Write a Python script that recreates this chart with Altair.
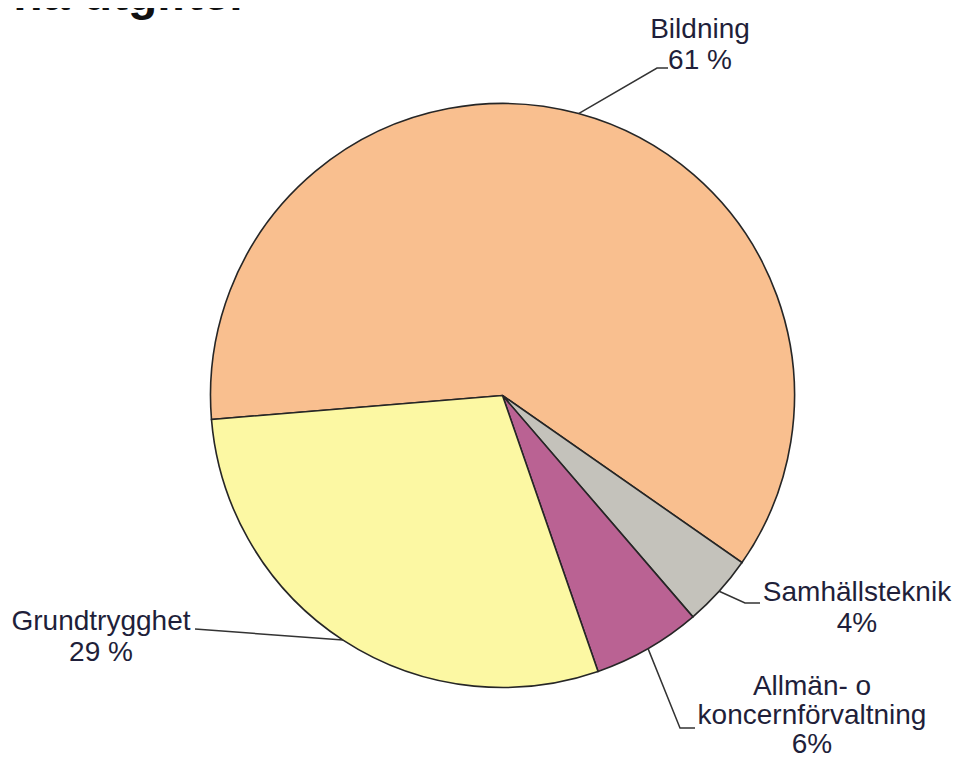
import math
import altair as alt
import pandas as pd

# ---- data ----
categories = ["Bildning", "Samhällsteknik", "Allmän- o koncernförvaltning", "Grundtrygghet"]
shares = [61, 4, 6, 29]
label_lines = [
    ["Bildning", "61 %"],
    ["Samhällsteknik", "4%"],
    ["Allmän- o", "koncernförvaltning", "6%"],
    ["Grundtrygghet", "29 %"],
]
title_text = "na utgifter"

# ---- styles / layout ----
colors = ["#F9BF8F", "#C4C2BB", "#BA6293", "#FCF8A3"]
W, H = 944, 756
CX, CY, R = 494.5, 387.5, 292
START = math.radians(265.3)
label_pos = [(692, 22), (849, 585), (804, 679), (93, 614)]   # first line centre
line_h = [31, 31, 29, 31]
elbow_pos = [(649, 60), (737, 595), (672, 720), (187, 621)]
end_pos = [(660, 60), (752, 595), (687, 720), (187, 621)]

pie_df = pd.DataFrame({"cat": categories, "value": shares, "idx": range(len(categories))})

pie = alt.Chart(pie_df).mark_arc(radius=R, stroke="#262626", strokeWidth=1.6).encode(
    theta=alt.Theta("value:Q", stack=True,
                    scale=alt.Scale(range=[START, START + 2 * math.pi])),
    color=alt.Color("cat:N", scale=alt.Scale(domain=categories, range=colors), legend=None),
    order=alt.Order("idx:Q"),
    x=alt.value(CX),
    y=alt.value(CY),
)

# leader lines: start at slice mid-angle on the rim
total = sum(shares)
rows = []
cum = 0
for i, (c, v) in enumerate(zip(categories, shares)):
    mid = START + 2 * math.pi * (cum + v / 2) / total
    cum += v
    sx = CX + R * math.sin(mid)
    sy = CY - R * math.cos(mid)
    pts = [(sx, sy), elbow_pos[i], end_pos[i]]
    for k, (px, py) in enumerate(pts):
        rows.append({"cat": c, "k": k, "x": px, "y": py})
lead_df = pd.DataFrame(rows)

leaders = alt.Chart(lead_df).mark_line(color="#333333", strokeWidth=1.5).encode(
    x=alt.X("x:Q", scale=None),
    y=alt.Y("y:Q", scale=None),
    detail="cat:N",
    order="k:Q",
)

lab_rows = []
for i, lines in enumerate(label_lines):
    lx, ly = label_pos[i]
    for j, t in enumerate(lines):
        lab_rows.append({"t": t, "x": lx, "y": ly + j * line_h[i]})
lab_df = pd.DataFrame(lab_rows)

labels = alt.Chart(lab_df).mark_text(
    font="Liberation Sans", fontSize=28, color="#1f1f3a", align="center", baseline="middle"
).encode(
    x=alt.X("x:Q", scale=None),
    y=alt.Y("y:Q", scale=None),
    text="t:N",
)

title = alt.Chart(pd.DataFrame({"t": [title_text]})).mark_text(
    font="Liberation Sans", fontSize=48, fontWeight="bold", color="#111111",
    align="right", baseline="alphabetic"
).encode(
    x=alt.value(240),
    y=alt.value(2),
    text="t:N",
)

chart = alt.layer(pie, leaders, labels, title).properties(
    width=W, height=H,
    autosize=alt.AutoSizeParams(type="none"),
    padding=0,
    background="white",
).configure_view(stroke=None)

chart.save("out.html", embed_options={"renderer": "svg", "actions": False})
